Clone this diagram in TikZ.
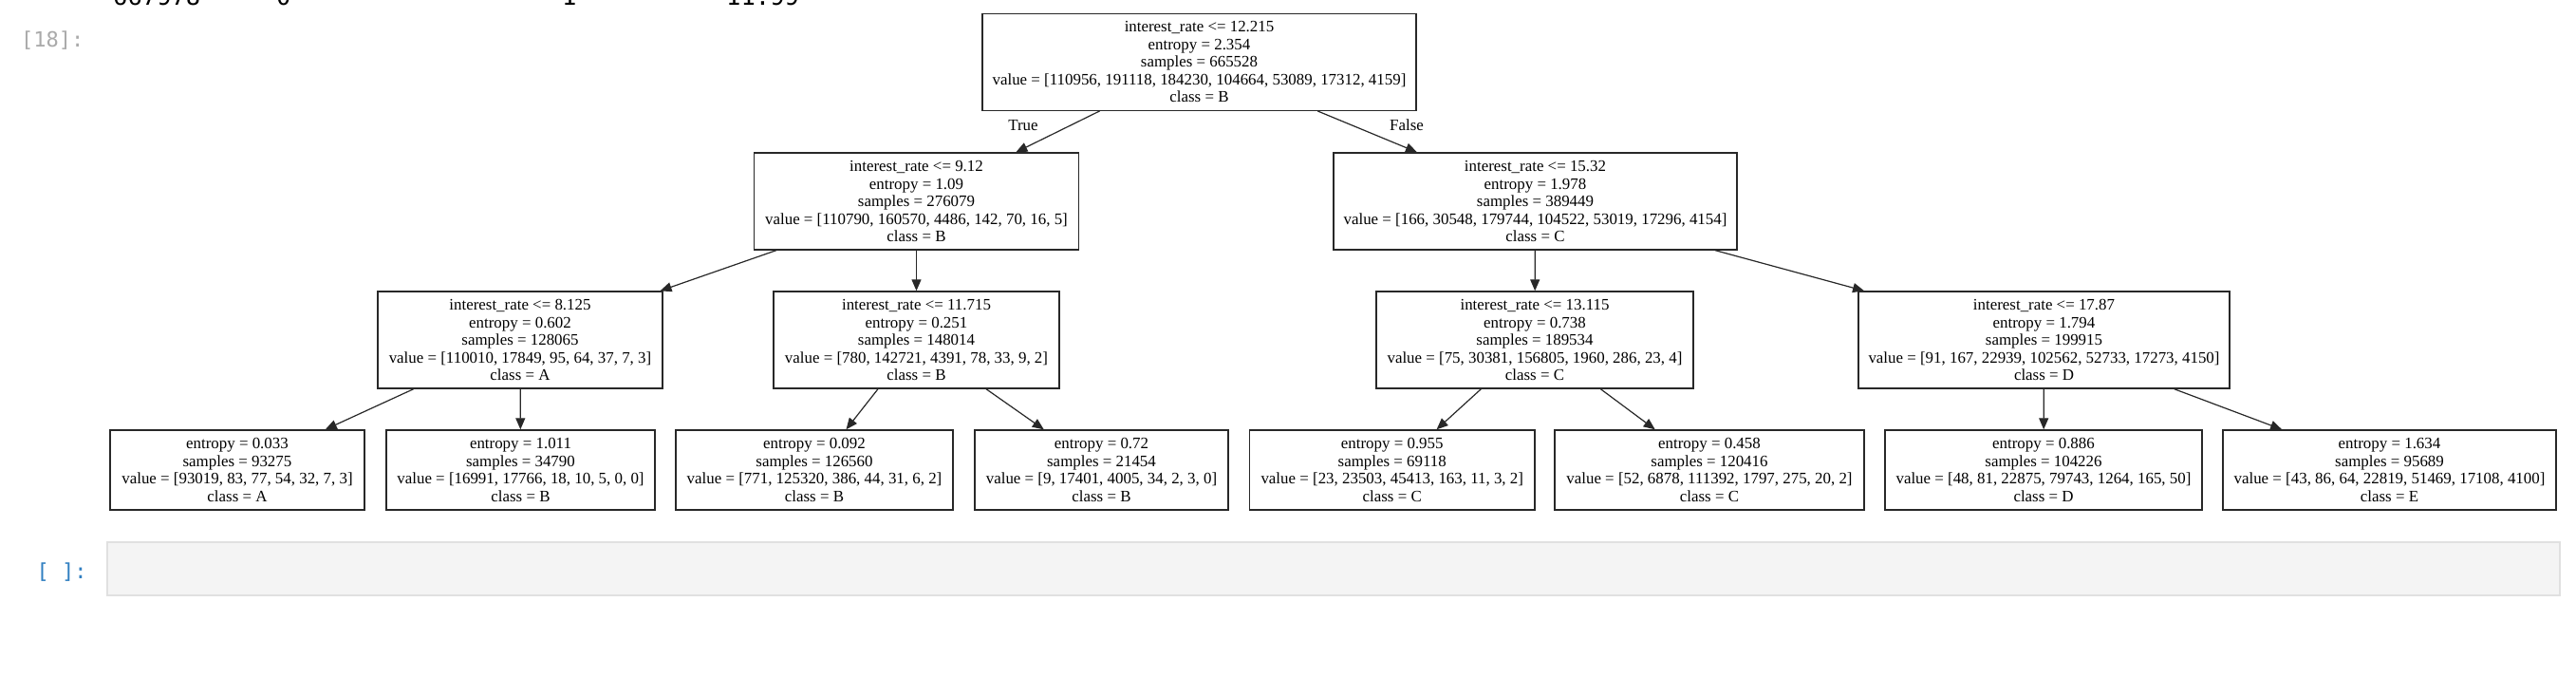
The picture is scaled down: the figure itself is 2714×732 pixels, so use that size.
\documentclass[tikz,border=0pt]{standalone}
\usepackage{fontspec}
\setmainfont{Liberation Serif}
\newfontfamily\promptfont{DejaVu Sans Mono}
\usetikzlibrary{arrows.meta}
\definecolor{promptgray}{RGB}{170,170,170}
\definecolor{promptblue}{RGB}{48,127,193}
\definecolor{cellfill}{RGB}{244,244,244}
\definecolor{cellline}{RGB}{224,224,224}
\definecolor{boxline}{RGB}{40,40,40}
\tikzset{
  treebox/.style={draw=boxline, line width=1.4pt, rectangle, inner sep=0pt, align=center,
    font=\fontsize{16.9}{18.5}\selectfont},
  leafbox/.style={treebox, minimum height=84pt},
  splitbox/.style={treebox, minimum height=102pt},
  edge/.style={draw=boxline, line width=1.2pt, -{Triangle[length=12pt,width=10pt]}},
  edgelabel/.style={inner sep=0pt, font=\fontsize{16.9}{18.5}\selectfont},
  prompt/.style={inner sep=0pt, anchor=base west, font=\promptfont\fontsize{22}{26}\selectfont},
  tablecell/.style={inner sep=0pt, anchor=base west, font=\promptfont\fontsize{25.5}{30}\selectfont},
  cellbox/.style={draw=cellline, fill=cellfill, line width=2pt, inner sep=0pt}
}
\begin{document}
\begin{tikzpicture}[x=1pt,y=-1pt]
\useasboundingbox (0,0) rectangle (2714,732);
\clip (0,0) rectangle (2714,732);
\fill[white] (0,0) rectangle (2714,732);

% cut-off table row at the top
\node[tablecell] (t1) at (119,5) {667978};
\node[tablecell] (t2) at (291,5) {0};
\node[tablecell] (t3) at (592,5) {1};
\node[tablecell] (t4) at (765,5) {11.99};

% prompts
\node[prompt, text=promptgray] (p18) at (22,49.5) {[18]:};
\node[prompt, text=promptblue] (pempty) at (38.5,609.5) {[ ]:};
\node[cellbox, minimum width=2584pt, minimum height=56pt] (cell) at (1405,599) {};

% tree
\node[splitbox, minimum width=457pt] (root) at (1263.5,65.25)
  {interest\_rate <= 12.215\\entropy = 2.354\\samples = 665528\\value = [110956, 191118, 184230, 104664, 53089, 17312, 4159]\\class = B};

\node[splitbox, minimum width=342pt] (l2a) at (965.5,212)
  {interest\_rate <= 9.12\\entropy = 1.09\\samples = 276079\\value = [110790, 160570, 4486, 142, 70, 16, 5]\\class = B};
\node[splitbox, minimum width=425pt] (l2b) at (1617.5,212)
  {interest\_rate <= 15.32\\entropy = 1.978\\samples = 389449\\value = [166, 30548, 179744, 104522, 53019, 17296, 4154]\\class = C};

\node[splitbox, minimum width=300pt] (l3a) at (548,358)
  {interest\_rate <= 8.125\\entropy = 0.602\\samples = 128065\\value = [110010, 17849, 95, 64, 37, 7, 3]\\class = A};
\node[splitbox, minimum width=301pt] (l3b) at (965.5,358)
  {interest\_rate <= 11.715\\entropy = 0.251\\samples = 148014\\value = [780, 142721, 4391, 78, 33, 9, 2]\\class = B};
\node[splitbox, minimum width=334pt] (l3c) at (1617,358)
  {interest\_rate <= 13.115\\entropy = 0.738\\samples = 189534\\value = [75, 30381, 156805, 1960, 286, 23, 4]\\class = C};
\node[splitbox, minimum width=391pt] (l3d) at (2153.5,358)
  {interest\_rate <= 17.87\\entropy = 1.794\\samples = 199915\\value = [91, 167, 22939, 102562, 52733, 17273, 4150]\\class = D};

\node[leafbox, minimum width=268pt] (f1) at (250,495)
  {entropy = 0.033\\samples = 93275\\value = [93019, 83, 77, 54, 32, 7, 3]\\class = A};
\node[leafbox, minimum width=283pt] (f2) at (548.5,495)
  {entropy = 1.011\\samples = 34790\\value = [16991, 17766, 18, 10, 5, 0, 0]\\class = B};
\node[leafbox, minimum width=292pt] (f3) at (858,495)
  {entropy = 0.092\\samples = 126560\\value = [771, 125320, 386, 44, 31, 6, 2]\\class = B};
\node[leafbox, minimum width=267pt] (f4) at (1160.5,495)
  {entropy = 0.72\\samples = 21454\\value = [9, 17401, 4005, 34, 2, 3, 0]\\class = B};
\node[leafbox, minimum width=300.5pt] (f5) at (1466.75,495)
  {entropy = 0.955\\samples = 69118\\value = [23, 23503, 45413, 163, 11, 3, 2]\\class = C};
\node[leafbox, minimum width=326pt] (f6) at (1801,495)
  {entropy = 0.458\\samples = 120416\\value = [52, 6878, 111392, 1797, 275, 20, 2]\\class = C};
\node[leafbox, minimum width=334pt] (f7) at (2153,495)
  {entropy = 0.886\\samples = 104226\\value = [48, 81, 22875, 79743, 1264, 165, 50]\\class = D};
\node[leafbox, minimum width=351pt] (f8) at (2517.5,495)
  {entropy = 1.634\\samples = 95689\\value = [43, 86, 64, 22819, 51469, 17108, 4100]\\class = E};

\node[edgelabel] (ltrue) at (1078,132) {True};
\node[edgelabel] (lfalse) at (1482,132) {False};

\draw[edge] (root) -- (l2a);
\draw[edge] (root) -- (l2b);
\draw[edge] (l2a) -- (l3a);
\draw[edge] (l2a) -- (l3b);
\draw[edge] (l2b) -- (l3c);
\draw[edge] (l2b) -- (l3d);
\draw[edge] (l3a) -- (f1);
\draw[edge] (l3a) -- (f2);
\draw[edge] (l3b) -- (f3);
\draw[edge] (l3b) -- (f4);
\draw[edge] (l3c) -- (f5);
\draw[edge] (l3c) -- (f6);
\draw[edge] (l3d) -- (f7);
\draw[edge] (l3d) -- (f8);
\end{tikzpicture}
\end{document}
